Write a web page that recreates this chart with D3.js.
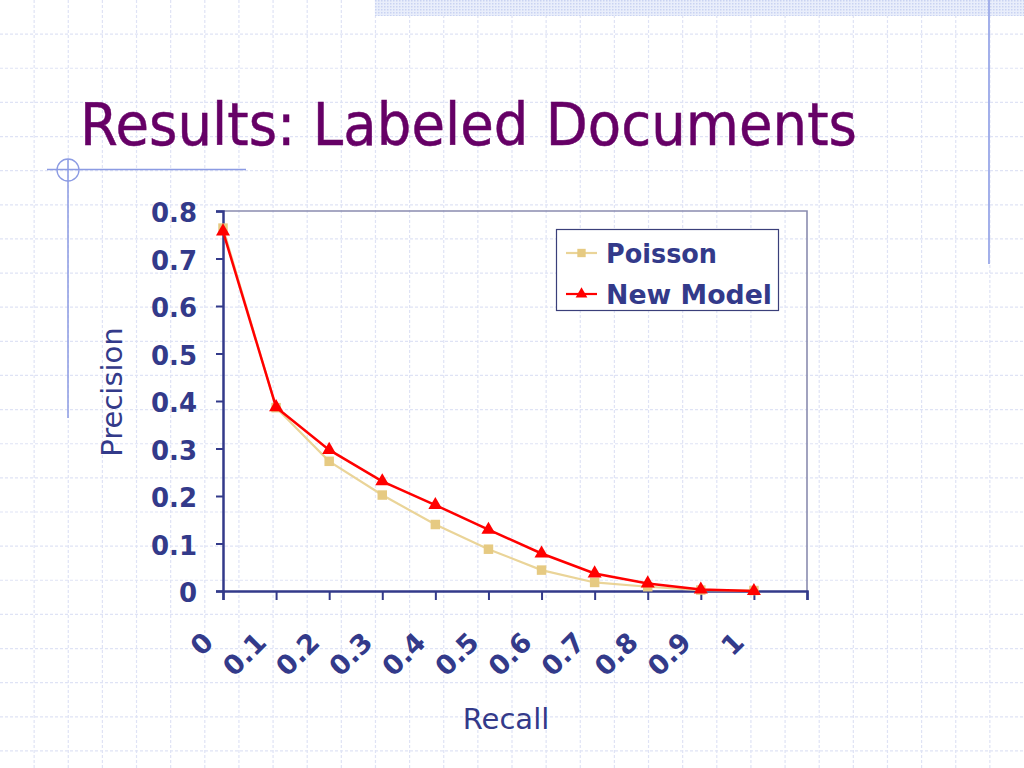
<!DOCTYPE html>
<html>
<head>
<meta charset="utf-8">
<script src="https://cdn.jsdelivr.net/npm/d3@7"></script>
<style>
  html, body { margin: 0; padding: 0; background: #ffffff; }
  svg { display: block; }
</style>
</head>
<body>
<script>
// ---------- data ----------
const recall = [0, 0.1, 0.2, 0.3, 0.4, 0.5, 0.6, 0.7, 0.8, 0.9, 1.0];
const poisson = [0.764, 0.386, 0.273, 0.202, 0.140, 0.088, 0.044, 0.018, 0.009, 0.002, 0.001];
const newModel = [0.757, 0.387, 0.297, 0.231, 0.181, 0.129, 0.079, 0.037, 0.016, 0.003, 0.0];
const seriesNames = ["Poisson", "New Model"];
const xTickLabels = ["0", "0.1", "0.2", "0.3", "0.4", "0.5", "0.6", "0.7", "0.8", "0.9", "1"];
const xTickPositions = [0, 0.1, 0.2, 0.3, 0.4, 0.5, 0.6, 0.7, 0.8, 0.9, 1.0, 1.1];
const yTickLabels = ["0", "0.1", "0.2", "0.3", "0.4", "0.5", "0.6", "0.7", "0.8"];
const titleText = "Results: Labeled Documents";
const xTitle = "Recall";
const yTitle = "Precision";

(function () {
// ---------- setup ----------
const W = 1024, H = 768;
const svg = d3.select("body").append("svg").attr("width", W).attr("height", H);
svg.append("rect").attr("width", W).attr("height", H).attr("fill", "#ffffff");

// background grid paper
const gridStepX = W / 30, gridStepY = H / 22.5;
const bg = svg.append("g");
bg.selectAll("line.v").data(d3.range(1, 30)).join("line")
  .attr("x1", d => d * gridStepX).attr("x2", d => d * gridStepX)
  .attr("y1", 0).attr("y2", H)
  .attr("stroke", "#dfe3f5").attr("stroke-width", 1.2).attr("stroke-dasharray", "3,2");
bg.selectAll("line.h").data(d3.range(1, 23)).join("line")
  .attr("y1", d => d * gridStepY).attr("y2", d => d * gridStepY)
  .attr("x1", 0).attr("x2", W)
  .attr("stroke", "#dfe3f5").attr("stroke-width", 1.2).attr("stroke-dasharray", "3,2");

// top right dotted band
const defs = svg.append("defs");
const pat = defs.append("pattern").attr("id", "dots").attr("width", 3).attr("height", 3)
  .attr("patternUnits", "userSpaceOnUse");
pat.append("rect").attr("width", 3).attr("height", 3).attr("fill", "#e9eefb");
pat.append("rect").attr("width", 1.5).attr("height", 1.5).attr("fill", "#c9d3f2");
svg.append("rect").attr("x", 375).attr("y", 0).attr("width", W - 375).attr("height", 16)
  .attr("fill", "url(#dots)");

// decorative lines
const deco = "#8c9be3";
svg.append("line").attr("x1", 989).attr("x2", 989).attr("y1", 0).attr("y2", 264)
  .attr("stroke", "#a3b0ea").attr("stroke-width", 2);
svg.append("line").attr("x1", 47).attr("x2", 246).attr("y1", 169.5).attr("y2", 169.5)
  .attr("stroke", deco).attr("stroke-width", 1.3);
svg.append("line").attr("x1", 68).attr("x2", 68).attr("y1", 159).attr("y2", 418)
  .attr("stroke", deco).attr("stroke-width", 1.5);
svg.append("circle").attr("cx", 68).attr("cy", 170).attr("r", 11)
  .attr("fill", "none").attr("stroke", deco).attr("stroke-width", 1.3);

// title
svg.append("text").attr("x", 80).attr("y", 145)
  .attr("font-family", "'DejaVu Sans', sans-serif")
  .attr("font-size", 59).attr("fill", "#660066")
  .attr("stroke", "#660066").attr("stroke-width", 0.5)
  .attr("textLength", 777).attr("lengthAdjust", "spacingAndGlyphs")
  .text(titleText);

// ---------- chart ----------
const pLeft = 223, pRight = 807, pTop = 211, pBottom = 591;
const x = d3.scaleLinear().domain([0, 1.1]).range([pLeft, pRight]);
const y = d3.scaleLinear().domain([0, 0.8]).range([pBottom, pTop]);
const navy = "#333a8a";
const fontB = "'DejaVu Sans', Verdana, sans-serif";

// plot border (top & right)
svg.append("path")
  .attr("d", `M${pLeft},${pTop}H${pRight}V${pBottom}`)
  .attr("fill", "none").attr("stroke", "#8a8cb0").attr("stroke-width", 1.6);

// y axis
const yAxis = svg.append("g").attr("transform", `translate(${pLeft},0)`)
  .call(d3.axisLeft(y).tickValues(yTickLabels.map(Number)).tickSize(7).tickPadding(19)
    .tickFormat((d, i) => yTickLabels[i]));
yAxis.select(".domain").attr("stroke", navy).attr("stroke-width", 2.5);
yAxis.selectAll(".tick line").attr("stroke", navy).attr("stroke-width", 2);
yAxis.selectAll(".tick text")
  .attr("font-family", fontB).attr("font-weight", "bold").attr("font-size", 26)
  .attr("fill", navy).attr("dy", "0.42em");

// x axis
const xAxis = svg.append("g").attr("transform", `translate(0,${pBottom})`)
  .call(d3.axisBottom(x).tickValues(xTickPositions).tickSize(9).tickFormat(""));
xAxis.select(".domain").attr("stroke", navy).attr("stroke-width", 2.5);
xAxis.selectAll(".tick line").attr("stroke", navy).attr("stroke-width", 2);

// rotated x labels
svg.append("g").selectAll("text").data(xTickLabels).join("text")
  .attr("transform", (d, i) => `translate(${x(xTickPositions[i]) - 8},${644}) rotate(-45)`)
  .attr("text-anchor", "end")
  .attr("font-family", fontB).attr("font-weight", "bold").attr("font-size", 27)
  .attr("fill", navy)
  .text(d => d);

// axis titles
svg.append("text").attr("x", 506).attr("y", 729).attr("text-anchor", "middle")
  .attr("font-family", fontB).attr("font-size", 29).attr("fill", navy).text(xTitle);
svg.append("text").attr("transform", "translate(122,392) rotate(-90)").attr("text-anchor", "middle")
  .attr("font-family", fontB).attr("font-size", 29).attr("fill", navy).text(yTitle);

// series
const poissonLine = "#ead498", poissonMark = "#e6ca82", red = "#ff0000";
const line = d3.line().x((d, i) => x(recall[i])).y(d => y(d));
svg.append("path").datum(poisson).attr("d", line)
  .attr("fill", "none").attr("stroke", poissonLine).attr("stroke-width", 2.2);
svg.append("g").selectAll("path").data(poisson).join("path")
  .attr("d", d3.symbol(d3.symbolSquare, 90))
  .attr("transform", (d, i) => `translate(${x(recall[i])},${y(d)})`)
  .attr("fill", poissonMark);
svg.append("path").datum(newModel).attr("d", line)
  .attr("fill", "none").attr("stroke", red).attr("stroke-width", 2.5);
svg.append("g").selectAll("path").data(newModel).join("path")
  .attr("d", d3.symbol(d3.symbolTriangle, 85))
  .attr("transform", (d, i) => `translate(${x(recall[i])},${y(d)})`)
  .attr("fill", red);

// legend
const lg = svg.append("g");
lg.append("rect").attr("x", 556.5).attr("y", 229.5).attr("width", 222).attr("height", 81)
  .attr("fill", "#ffffff").attr("stroke", "#3a3f7a").attr("stroke-width", 1.2);
const legendItems = [
  { name: seriesNames[0], color: poissonLine, mark: poissonMark, sym: d3.symbolSquare, size: 70, ly: 253, len: 111 },
  { name: seriesNames[1], color: red, mark: red, sym: d3.symbolTriangle, size: 60, ly: 294, len: 166 }
];
legendItems.forEach(it => {
  lg.append("line").attr("x1", 566).attr("x2", 597).attr("y1", it.ly).attr("y2", it.ly)
    .attr("stroke", it.color).attr("stroke-width", 2.2);
  lg.append("path").attr("d", d3.symbol(it.sym, it.size))
    .attr("transform", `translate(581.5,${it.ly})`).attr("fill", it.mark);
  lg.append("text").attr("x", 606).attr("y", it.ly + 9.5)
    .attr("font-family", fontB).attr("font-weight", "bold").attr("font-size", 26)
    .attr("textLength", it.len).attr("lengthAdjust", "spacingAndGlyphs")
    .attr("fill", navy).text(it.name);
});
})();
</script>
</body>
</html>
